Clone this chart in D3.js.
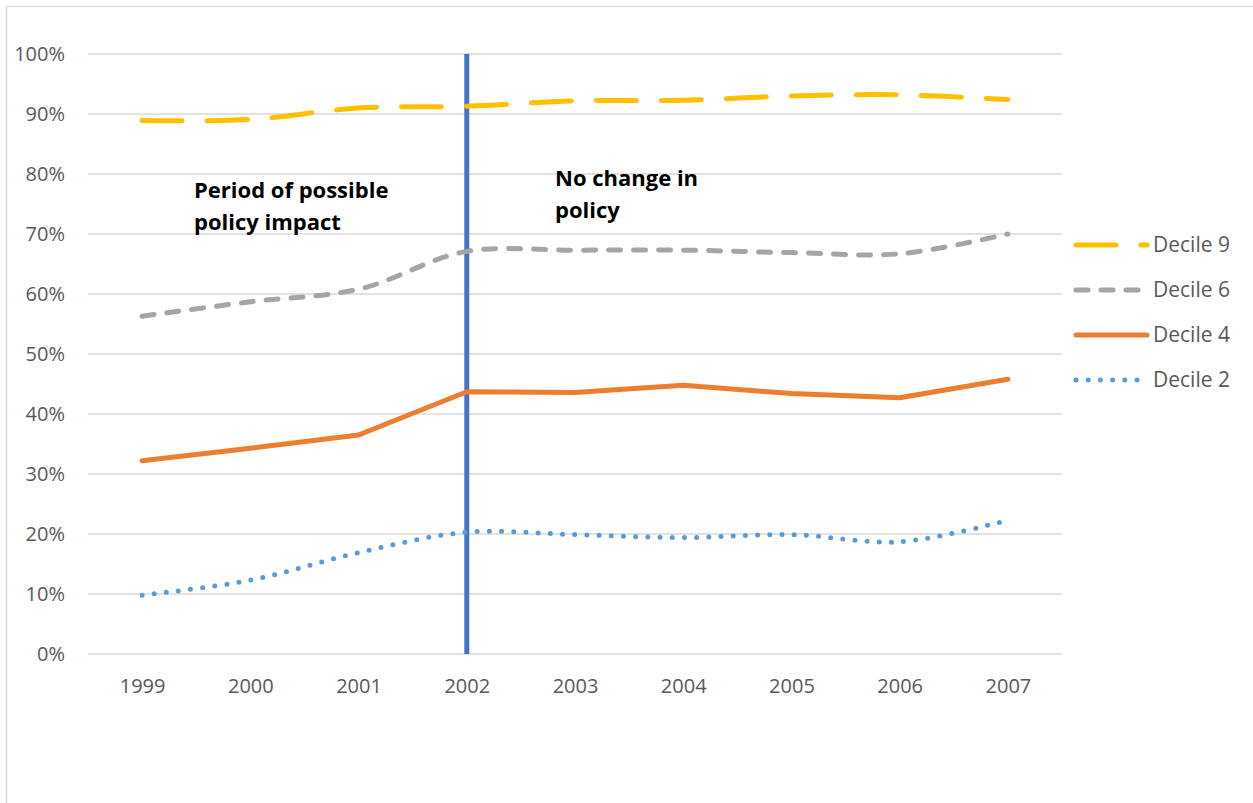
<!DOCTYPE html>
<html>
<head>
<meta charset="utf-8">
<script src="https://cdn.jsdelivr.net/npm/d3@7"></script>
<style>
  body { margin: 0; background: #fff; }
  svg { display: block; font-family: "Open Sans", sans-serif; }
</style>
</head>
<body>
<svg width="1253" height="803"></svg>
<script>
var years = [1999, 2000, 2001, 2002, 2003, 2004, 2005, 2006, 2007];
var decile9 = [88.9, 89.1, 91.0, 91.3, 92.2, 92.3, 93.0, 93.2, 92.4];
var decile6 = [56.3, 58.7, 60.8, 67.1, 67.3, 67.3, 66.9, 66.7, 70.0];
var decile4 = [32.2, 34.3, 36.5, 43.7, 43.6, 44.8, 43.4, 42.7, 45.8];
var decile2 = [9.8, 12.3, 16.9, 20.3, 19.9, 19.4, 19.9, 18.7, 22.3];
var yTicks = [0, 10, 20, 30, 40, 50, 60, 70, 80, 90, 100];
var policyYear = 2002;

var series = [
  { name: "Decile 9", values: decile9, color: "#FFC000", dash: "40,25", smooth: true },
  { name: "Decile 6", values: decile6, color: "#A5A5A5", dash: "12,13", smooth: true },
  { name: "Decile 4", values: decile4, color: "#ED7D31", dash: null, smooth: false },
  { name: "Decile 2", values: decile2, color: "#5B9BD5", dash: "0,12.2", smooth: true }
];

var svg = d3.select("svg");

// chart border
svg.append("rect")
  .attr("x", 6.5).attr("y", 6.5)
  .attr("width", 1400).attr("height", 1000)
  .attr("fill", "none")
  .attr("stroke", "#D9D9D9")
  .attr("stroke-width", 1.5);

var plotLeft = 88, plotRight = 1062, plotTop = 54, plotBottom = 654;

var x = d3.scalePoint()
  .domain(years)
  .range([plotLeft, plotRight])
  .padding(0.5);

var y = d3.scaleLinear()
  .domain([0, 100])
  .range([plotBottom, plotTop]);

// gridlines
svg.append("g")
  .selectAll("line")
  .data(yTicks)
  .enter().append("line")
  .attr("x1", plotLeft)
  .attr("x2", plotRight)
  .attr("y1", function(d) { return y(d); })
  .attr("y2", function(d) { return y(d); })
  .attr("stroke", "#D9D9D9")
  .attr("stroke-width", 1.5);

// y axis labels
var yAxis = svg.append("g")
  .attr("transform", "translate(" + (plotLeft - 10) + ",0)")
  .call(d3.axisLeft(y).tickValues(yTicks).tickSize(0).tickPadding(13)
    .tickFormat(function(d) { return d + "%"; }));
yAxis.select(".domain").remove();
yAxis.selectAll("text")
  .attr("fill", "#595959")
  .style("font-size", "20px")
  .style("font-family", "'Open Sans', sans-serif");

// x axis labels
var xAxis = svg.append("g")
  .attr("transform", "translate(0," + plotBottom + ")")
  .call(d3.axisBottom(x).tickSize(0).tickPadding(25));
xAxis.select(".domain").remove();
xAxis.selectAll("text")
  .attr("fill", "#595959")
  .style("font-size", "20px")
  .style("font-family", "'Open Sans', sans-serif");

// policy change line
svg.append("line")
  .attr("x1", x(policyYear)).attr("x2", x(policyYear))
  .attr("y1", y(0)).attr("y2", y(100))
  .attr("stroke", "#4472C4")
  .attr("stroke-width", 5);

// series lines
series.forEach(function(s) {
  var line = d3.line()
    .x(function(d, i) { return x(years[i]); })
    .y(function(d) { return y(d); })
    .curve(s.smooth ? d3.curveCatmullRom.alpha(1) : d3.curveLinear);
  svg.append("path")
    .datum(s.values)
    .attr("d", line)
    .attr("fill", "none")
    .attr("stroke", s.color)
    .attr("stroke-width", 5)
    .attr("stroke-linecap", "round")
    .attr("stroke-linejoin", "round")
    .attr("stroke-dasharray", s.dash);
});

// annotations
var notes = [
  { lines: ["Period of possible", "policy impact"], x: 194, y: 198 },
  { lines: ["No change in", "policy"], x: 555, y: 186 }
];
notes.forEach(function(n) {
  var t = svg.append("text")
    .attr("x", n.x).attr("y", n.y)
    .attr("fill", "#000")
    .style("font-weight", "bold")
    .style("font-size", "22px");
  n.lines.forEach(function(l, i) {
    t.append("tspan").attr("x", n.x).attr("dy", i === 0 ? 0 : 32).text(l);
  });
});

// legend
var legend = svg.selectAll(".legend")
  .data(series)
  .enter().append("g")
  .attr("class", "legend")
  .attr("transform", function(d, i) { return "translate(1076," + (245 + i * 45) + ")"; });

legend.append("line")
  .attr("x1", 0).attr("x2", 71)
  .attr("y1", 0).attr("y2", 0)
  .attr("stroke", function(d) { return d.color; })
  .attr("stroke-width", 5)
  .attr("stroke-linecap", "round")
  .attr("stroke-dasharray", function(d) { return d.dash; });

legend.append("text")
  .attr("x", 77)
  .attr("y", 0)
  .attr("dy", "0.35em")
  .attr("fill", "#595959")
  .style("font-size", "21px")
  .text(function(d) { return d.name; });
</script>
</body>
</html>
